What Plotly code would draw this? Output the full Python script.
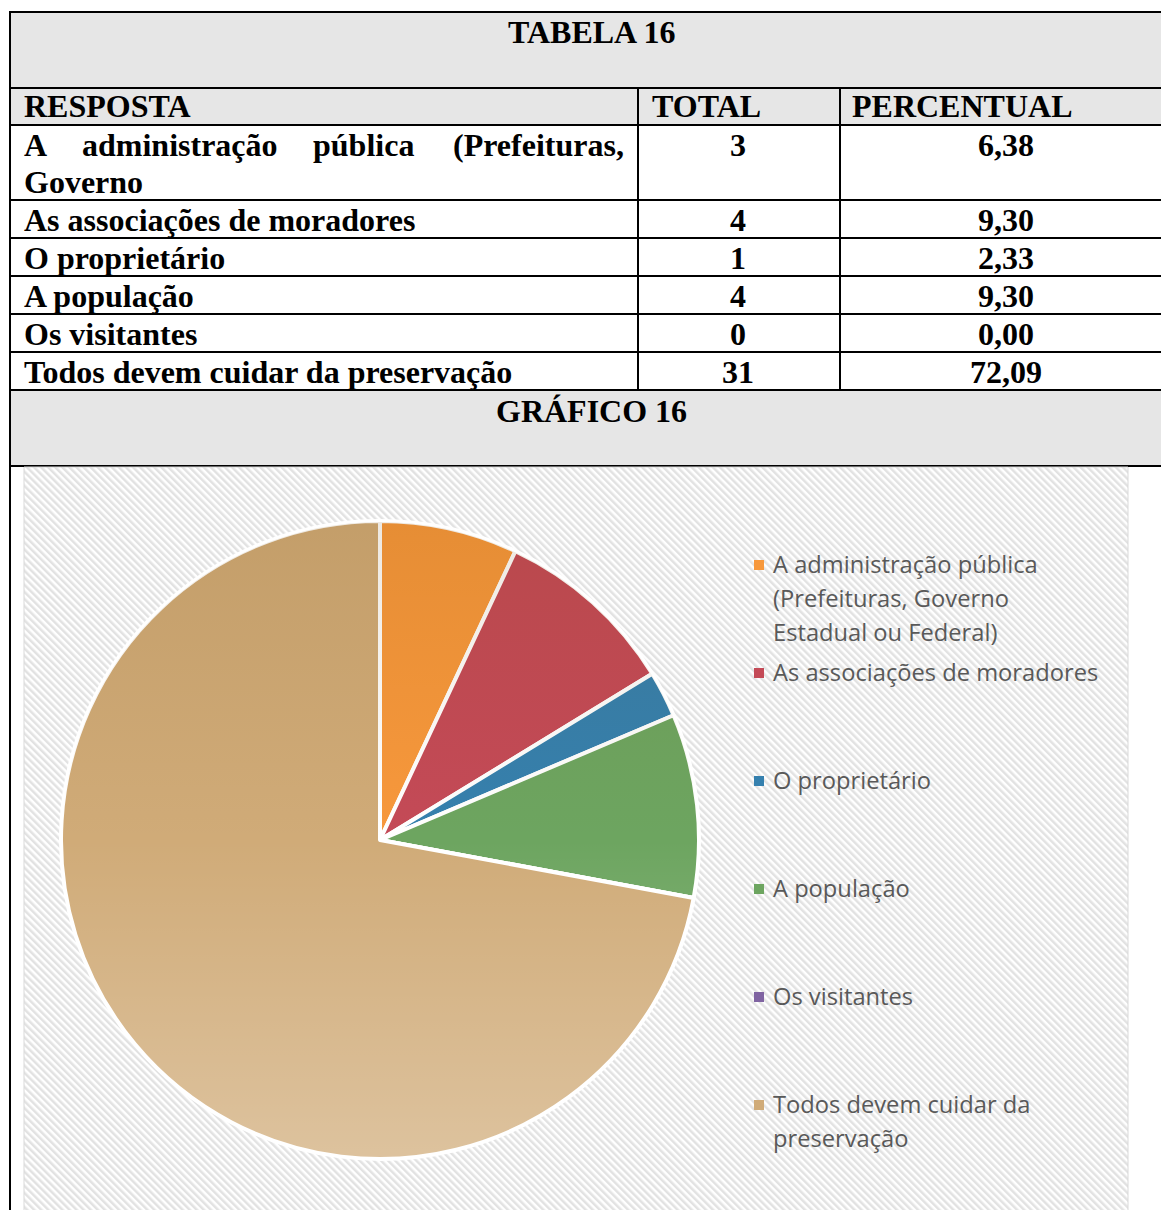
import base64
import textwrap
import plotly.graph_objects as go

# ---------------- data ----------------
table_title = "TABELA 16"
chart_title = "GRÁFICO 16"
col_headers = ["RESPOSTA", "TOTAL", "PERCENTUAL"]
table_labels = [
    "A administração pública (Prefeituras, Governo",
    "As associações de moradores",
    "O proprietário",
    "A população",
    "Os visitantes",
    "Todos devem cuidar da preservação",
]
totals = [3, 4, 1, 4, 0, 31]
percents = ["6,38", "9,30", "2,33", "9,30", "0,00", "72,09"]
chart_labels = [
    "A administração pública (Prefeituras, Governo Estadual ou Federal)",
    "As associações de moradores",
    "O proprietário",
    "A população",
    "Os visitantes",
    "Todos devem cuidar da preservação",
]
slice_colors = ["#F7983C", "#C44A57", "#3580AE", "#6DA560", "#8064A2", "#D0AB78"]

# ---------------- layout helpers (pixels -> paper) ----------------
W, H = 1161, 1210
def px(x):
    return x / W
def py(y):
    return 1 - y / H

SERIF = dict(family="Liberation Serif, Times New Roman, serif", size=32, color="#000000", weight="bold")
SANS = dict(family="Open Sans", size=23.7, color="#595959")
GRAY = "#E6E6E6"
PAD = 3  # annotation inner padding compensation

shapes = []
annotations = []

def hline(y, x0=10, x1=W + 5, w=2):
    shapes.append(dict(type="line", xref="paper", yref="paper", x0=px(x0), x1=px(x1),
                       y0=py(y), y1=py(y), line=dict(color="#000", width=w)))

def vline(x, y0, y1, w=2):
    shapes.append(dict(type="line", xref="paper", yref="paper", x0=px(x), x1=px(x),
                       y0=py(y0), y1=py(y1), line=dict(color="#000", width=w)))

def band(y0, y1, x0=10, x1=W + 5, color=GRAY):
    shapes.append(dict(type="rect", xref="paper", yref="paper", x0=px(x0), x1=px(x1),
                       y0=py(y1), y1=py(y0), fillcolor=color, line=dict(width=0), layer="below"))

def text(x, y, s, font, xanchor="left"):
    if xanchor == "left":
        x -= PAD
    elif xanchor == "right":
        x += PAD
    annotations.append(dict(x=px(x), y=py(y), xref="paper", yref="paper", text=s,
                            showarrow=False, xanchor=xanchor, yanchor="middle",
                            font=font, align="left"))

# table geometry
top_band = (12, 88)
header_row = (88, 125)
row_edges = [125, 200, 238, 276, 314, 352, 390]
chart_band = (390, 466)
col_x = [10, 638, 840]

band(*top_band)
band(*header_row)
band(*chart_band)

for y in [top_band[0], top_band[1], header_row[1]] + row_edges[1:] + [chart_band[1]]:
    hline(y)
vline(10, 11, H + 5)
for cx_ in col_x[1:]:
    vline(cx_, header_row[0], row_edges[-1])

text(591, 32, table_title, SERIF, "center")
text(591, 411, chart_title, SERIF, "center")

header_x = [25, 653, 853]
for hx, h in zip(header_x, col_headers):
    text(hx, 106, h, SERIF)

line_h = 37
justify_x = [25, 83, 314, 623]
for i, lab in enumerate(table_labels):
    ytop = row_edges[i]
    lines = textwrap.wrap(lab, 38)
    for j, ln in enumerate(lines):
        yy = ytop + 20 + j * line_h
        if j < len(lines) - 1:
            words = ln.split(" ")
            for k, wd in enumerate(words):
                text(justify_x[k], yy, wd, SERIF, "right" if k == len(words) - 1 else "left")
        else:
            text(25, yy, ln, SERIF)
    text(738, ytop + 20, str(totals[i]), SERIF, "center")
    text(1006, ytop + 20, percents[i], SERIF, "center")

# chart area with diagonal stripe pattern
ca = (24, 466, 1128, H + 2)
cw, ch = ca[2] - ca[0], ca[3] - ca[1]
svg = (f'<svg xmlns="http://www.w3.org/2000/svg" width="{cw}" height="{ch}" '
       f'viewBox="0 0 {cw} {ch}" preserveAspectRatio="none"><defs>'
       '<pattern id="p" width="5" height="5" patternUnits="userSpaceOnUse" patternTransform="rotate(-45)">'
       '<rect width="5" height="5" fill="#ffffff"/><rect width="2.5" height="5" fill="#e2e2e2"/>'
       '</pattern></defs>'
       f'<rect x="0" y="0" width="{cw}" height="{ch}" fill="url(#p)"/></svg>')
src = "data:image/svg+xml;base64," + base64.b64encode(svg.encode()).decode()
images = [dict(source=src, xref="paper", yref="paper", x=px(ca[0]), y=py(ca[1]),
               sizex=cw / W, sizey=ch / H, xanchor="left", yanchor="top",
               sizing="stretch", layer="below")]
shapes.append(dict(type="rect", xref="paper", yref="paper", x0=px(ca[0]), x1=px(ca[2]),
                   y0=py(ca[3]), y1=py(ca[1] + 1), line=dict(color="#D9D9D9", width=1)))

# pie geometry
cx, cy, r = 380, 840, 319

# soft vertical shading over the pie disc (darker top -> lighter bottom), like the original's gradient fill
d = 2 * r
shade = (f'<svg xmlns="http://www.w3.org/2000/svg" width="{d}" height="{d}" viewBox="0 0 {d} {d}">'
         '<defs><linearGradient id="g" x1="0" y1="0" x2="0" y2="1">'
         '<stop offset="0" stop-color="#6A4000" stop-opacity="0.12"/>'
         '<stop offset="0.5" stop-color="#6A4000" stop-opacity="0"/>'
         '<stop offset="0.5" stop-color="#fff" stop-opacity="0"/>'
         '<stop offset="1" stop-color="#fff" stop-opacity="0.28"/>'
         '</linearGradient></defs>'
         f'<circle cx="{r}" cy="{r}" r="{r - 1}" fill="url(#g)"/></svg>')
images.append(dict(source="data:image/svg+xml;base64," + base64.b64encode(shade.encode()).decode(),
                   xref="paper", yref="paper", x=px(cx - r), y=py(cy - r), sizex=d / W, sizey=d / H,
                   xanchor="left", yanchor="top", sizing="stretch", layer="above"))

# legend (manual, fixed spacing like the original)
leg_x, leg_y0, leg_step, leg_line = 774, 564, 108, 34
for i, lab in enumerate(chart_labels):
    yy = leg_y0 + i * leg_step
    shapes.append(dict(type="rect", xref="paper", yref="paper", x0=px(754), x1=px(764),
                       y0=py(yy + 6), y1=py(yy - 4), fillcolor=slice_colors[i],
                       line=dict(width=0)))
    for j, ln in enumerate(textwrap.wrap(lab, 27)):
        text(leg_x, yy + j * leg_line, ln, SANS)

fig = go.Figure(go.Pie(
    labels=chart_labels, values=totals, sort=False, direction="clockwise", rotation=0,
    marker=dict(colors=slice_colors, line=dict(color="#FFFFFF", width=4)),
    textinfo="none", hoverinfo="label+value+percent", showlegend=False,
    domain=dict(x=[px(cx - r), px(cx + r)], y=[py(cy + r), py(cy - r)]),
))

fig.update_layout(
    width=W, height=H, margin=dict(l=0, r=0, t=0, b=0),
    paper_bgcolor="#FFFFFF", plot_bgcolor="#FFFFFF",
    shapes=shapes, annotations=annotations, images=images, showlegend=False,
)

fig.write_html("out.html", config={"displayModeBar": False},
               post_script="document.body.style.margin='0';document.body.style.overflow='hidden';")
